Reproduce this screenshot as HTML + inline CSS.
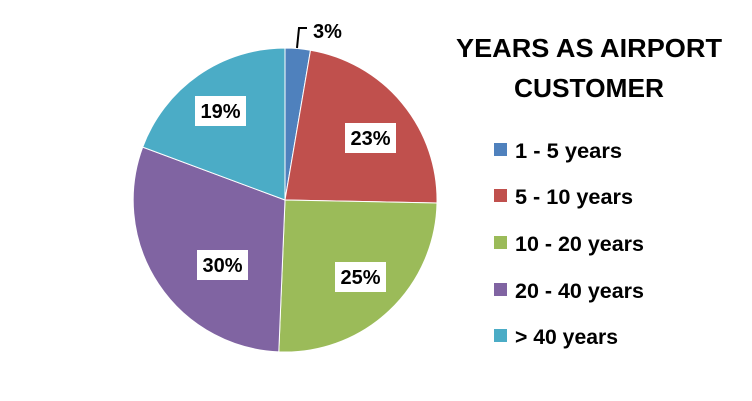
<!DOCTYPE html>
<html><head><style>
html,body{margin:0;padding:0;background:#fff;}
svg{display:block;font-family:"Liberation Sans",Arial,sans-serif;font-weight:bold;}
</style></head><body>
<svg width="752" height="401" viewBox="0 0 752 401">
<g stroke="#fff" stroke-width="1">
<path d="M285,200 L285,48 A152,152 0 0 1 310.5,50.2 Z" fill="#4F81BD"/>
<path d="M285,200 L310.5,50.2 A152,152 0 0 1 437,203 Z" fill="#C0504D"/>
<path d="M285,200 L437,203 A152,152 0 0 1 278.8,351.9 Z" fill="#9BBB59"/>
<path d="M285,200 L278.8,351.9 A152,152 0 0 1 142.7,147.1 Z" fill="#8064A2"/>
<path d="M285,200 L142.7,147.1 A152,152 0 0 1 285,48 Z" fill="#4BACC6"/>
</g>
<polyline points="297,48 299,28 307,28" fill="none" stroke="#000" stroke-width="2"/>
<text x="313" y="38" font-size="20">3%</text>
<rect x="345" y="123" width="51" height="30" fill="#fff"/>
<text x="370.5" y="145" font-size="20" text-anchor="middle">23%</text>
<rect x="335" y="262" width="51" height="30" fill="#fff"/>
<text x="360.5" y="284" font-size="20" text-anchor="middle">25%</text>
<rect x="197" y="250" width="51" height="30" fill="#fff"/>
<text x="222.5" y="272" font-size="20" text-anchor="middle">30%</text>
<rect x="195" y="96" width="51" height="30" fill="#fff"/>
<text x="220.5" y="118" font-size="20" text-anchor="middle">19%</text>
<text x="589" y="57" font-size="26" text-anchor="middle" textLength="266" lengthAdjust="spacingAndGlyphs">YEARS  AS AIRPORT</text>
<text x="589" y="97" font-size="26" text-anchor="middle" textLength="150" lengthAdjust="spacingAndGlyphs">CUSTOMER</text>
<g font-size="21">
<rect x="494" y="143" width="13" height="13" fill="#4F81BD"/><text x="515" y="158" textLength="107" lengthAdjust="spacingAndGlyphs">1 - 5 years</text>
<rect x="494" y="189" width="13" height="13" fill="#C0504D"/><text x="515" y="204" textLength="118" lengthAdjust="spacingAndGlyphs">5 - 10 years</text>
<rect x="494" y="236" width="13" height="13" fill="#9BBB59"/><text x="515" y="251" textLength="129" lengthAdjust="spacingAndGlyphs">10 - 20 years</text>
<rect x="494" y="283" width="13" height="13" fill="#8064A2"/><text x="515" y="298" textLength="129" lengthAdjust="spacingAndGlyphs">20 - 40 years</text>
<rect x="494" y="329" width="13" height="13" fill="#4BACC6"/><text x="515" y="344" textLength="103" lengthAdjust="spacingAndGlyphs">&gt; 40 years</text>
</g>
</svg>
</body></html>
